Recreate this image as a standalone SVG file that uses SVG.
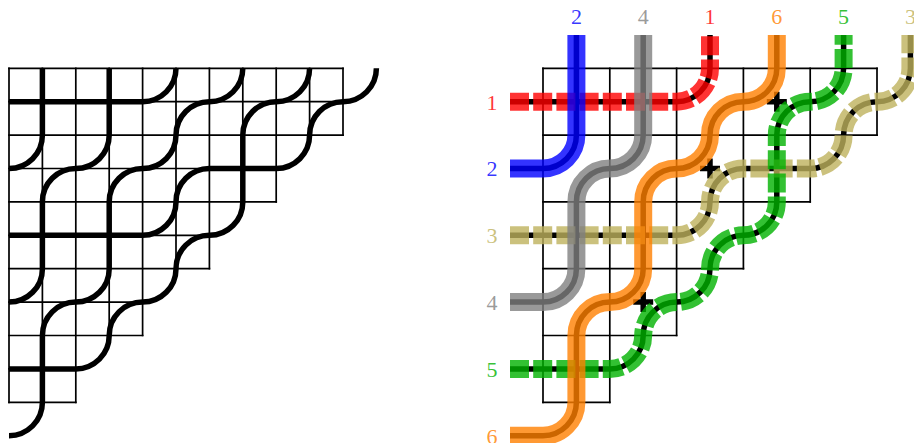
<svg xmlns="http://www.w3.org/2000/svg" width="914" height="443" viewBox="0 0 914 443">
<style>
.grid{fill:none;stroke:#000;stroke-width:1.7;stroke-linecap:square}
.pipe{fill:none;stroke:#000;stroke-width:5.5;stroke-linecap:butt}
.ov{fill:none;stroke-width:18;stroke-linecap:butt;stroke-opacity:0.8}
.dash{stroke-dasharray:19 4.2}
.lbl{font-family:"Liberation Serif","DejaVu Serif",serif;font-size:22px;text-anchor:middle;fill-opacity:0.8}
</style>
<rect width="914" height="443" fill="#fff"/>

<g id="left-grid" class="grid">
<path d="M9 68.3H343M9 101.7H343M9 135.1H343M9 168.5H276.2M9 201.9H276.2M9 235.3H209.4M9 268.7H209.4M9 302.1H142.6M9 335.5H142.6M9 368.9H75.8M9 402.3H75.8"/>
<path d="M9 68.3V402.3M42.4 68.3V402.3M75.8 68.3V402.3M109.2 68.3V335.5M142.6 68.3V335.5M176 68.3V268.7M209.4 68.3V268.7M242.8 68.3V201.9M276.2 68.3V201.9M309.6 68.3V135.1M343 68.3V135.1"/>
</g>

<g id="left-pipes" class="pipe">
<path d="M9 101.7H142.6A33.4 33.4 0 0 0 176 68.3"/>
<path d="M9 168.5A33.4 33.4 0 0 0 42.4 135.1V68.3"/>
<path d="M9 235.3H142.6A33.4 33.4 0 0 0 176 201.9A33.4 33.4 0 0 1 209.4 168.5H276.2A33.4 33.4 0 0 0 309.6 135.1A33.4 33.4 0 0 1 343 101.7A33.4 33.4 0 0 0 376.4 68.3"/>
<path d="M9 302.1A33.4 33.4 0 0 0 42.4 268.7V201.9A33.4 33.4 0 0 1 75.8 168.5A33.4 33.4 0 0 0 109.2 135.1V68.3"/>
<path d="M9 368.9H75.8A33.4 33.4 0 0 0 109.2 335.5A33.4 33.4 0 0 1 142.6 302.1A33.4 33.4 0 0 0 176 268.7A33.4 33.4 0 0 1 209.4 235.3A33.4 33.4 0 0 0 242.8 201.9V135.1A33.4 33.4 0 0 1 276.2 101.7A33.4 33.4 0 0 0 309.6 68.3"/>
<path d="M9 435.7A33.4 33.4 0 0 0 42.4 402.3V335.5A33.4 33.4 0 0 1 75.8 302.1A33.4 33.4 0 0 0 109.2 268.7V201.9A33.4 33.4 0 0 1 142.6 168.5A33.4 33.4 0 0 0 176 135.1A33.4 33.4 0 0 1 209.4 101.7A33.4 33.4 0 0 0 242.8 68.3"/>
</g>

<g id="right-grid" class="grid">
<path d="M543 68.3H877M543 135.1H877M543 201.9H810.2M543 268.7H743.4M543 335.5H676.6M543 402.3H609.8"/>
<path d="M543 68.3V402.3M609.8 68.3V402.3M676.6 68.3V335.5M743.4 68.3V268.7M810.2 68.3V201.9M877 68.3V135.1"/>
</g>

<g id="right-black-pipes" class="pipe">
<path id="p1" d="M510 101.7H676.6A33.4 33.4 0 0 0 710 68.3V35"/>
<path id="p2" d="M510 168.5H543A33.4 33.4 0 0 0 576.4 135.1V35"/>
<path id="p3" d="M510 235.3H676.6A33.4 33.4 0 0 0 710 201.9A33.4 33.4 0 0 1 743.4 168.5H810.2A33.4 33.4 0 0 0 843.6 135.1A33.4 33.4 0 0 1 877 101.7A33.4 33.4 0 0 0 910.4 68.3V35"/>
<path id="p4" d="M510 302.1H543A33.4 33.4 0 0 0 576.4 268.7V201.9A33.4 33.4 0 0 1 609.8 168.5A33.4 33.4 0 0 0 643.2 135.1V35"/>
<path id="p5" d="M510 368.9H609.8A33.4 33.4 0 0 0 643.2 335.5A33.4 33.4 0 0 1 676.6 302.1A33.4 33.4 0 0 0 710 268.7A33.4 33.4 0 0 1 743.4 235.3A33.4 33.4 0 0 0 776.8 201.9V135.1A33.4 33.4 0 0 1 810.2 101.7A33.4 33.4 0 0 0 843.6 68.3V35"/>
<path id="p6" d="M510 435.7H543A33.4 33.4 0 0 0 576.4 402.3V335.5A33.4 33.4 0 0 1 609.8 302.1A33.4 33.4 0 0 0 643.2 268.7V201.9A33.4 33.4 0 0 1 676.6 168.5A33.4 33.4 0 0 0 710 135.1A33.4 33.4 0 0 1 743.4 101.7A33.4 33.4 0 0 0 776.8 68.3V35"/>
<path d="M766.8 101.7H786.8M776.8 91.7V111.7M700 168.5H720M710 158.5V178.5M633.2 302.1H653.2M643.2 292.1V312.1"/>
</g>

<g id="pipe-1">
<use href="#p1" class="ov dash" stroke="#ff0000"/>
<text class="lbl" x="492" y="109.5" fill="#ff0000">1</text>
<text class="lbl" x="710" y="24" fill="#ff0000">1</text>
</g>
<g id="pipe-2">
<use href="#p2" class="ov" stroke="#0000ff"/>
<text class="lbl" x="492" y="176.3" fill="#0000ff">2</text>
<text class="lbl" x="576.4" y="24" fill="#0000ff">2</text>
</g>
<g id="pipe-3">
<use href="#p3" class="ov dash" stroke="#beb25c"/>
<text class="lbl" x="492" y="243.1" fill="#beb25c">3</text>
<text class="lbl" x="910.4" y="24" fill="#beb25c">3</text>
</g>
<g id="pipe-4">
<use href="#p4" class="ov" stroke="#808080"/>
<text class="lbl" x="492" y="309.9" fill="#808080">4</text>
<text class="lbl" x="643.2" y="24" fill="#808080">4</text>
</g>
<g id="pipe-5">
<use href="#p5" class="ov dash" stroke="#00b200"/>
<text class="lbl" x="492" y="376.7" fill="#00b200">5</text>
<text class="lbl" x="843.6" y="24" fill="#00b200">5</text>
</g>
<g id="pipe-6">
<use href="#p6" class="ov" stroke="#ff8000"/>
<text class="lbl" x="492" y="443.5" fill="#ff8000">6</text>
<text class="lbl" x="776.8" y="24" fill="#ff8000">6</text>
</g>
</svg>
